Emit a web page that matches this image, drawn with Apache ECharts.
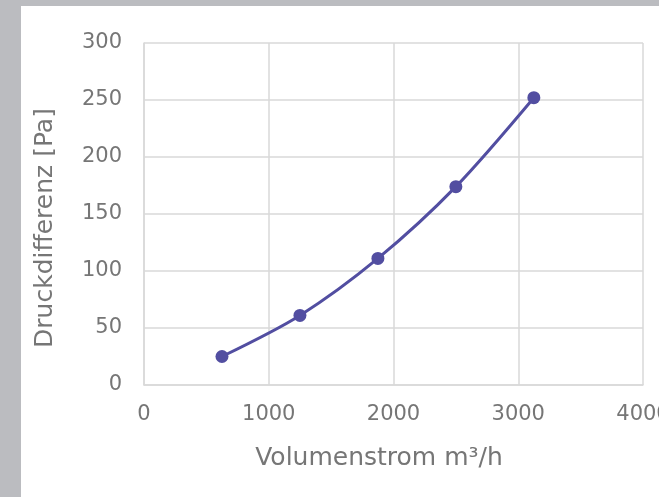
<!DOCTYPE html>
<html>
<head>
<meta charset="utf-8">
<script src="https://cdn.jsdelivr.net/npm/echarts@6/dist/echarts.min.js"></script>
<style>
  html, body { margin: 0; padding: 0; background: #bbbcc0; width: 659px; height: 497px; overflow: hidden; }
  #panel { position: absolute; left: 21px; top: 6px; width: 638px; height: 491px; background: #ffffff; }
  #chart { width: 638px; height: 491px; }
</style>
</head>
<body>
<div id="panel"><div id="chart"></div></div>
<script>
const volumenstrom = [625, 1250, 1875, 2500, 3125];
const druckdifferenz = [25, 61, 111, 174, 252];
const xTicks = [0, 1000, 2000, 3000, 4000];
const yTicks = [0, 50, 100, 150, 200, 250, 300];
const xTitle = 'Volumenstrom m³/h';
const yTitle = 'Druckdifferenz [Pa]';

const textColor = '#767676';
const gridColor = '#d9d9d9';
const fontFamily = '"DejaVu Sans", sans-serif';

const chart = echarts.init(document.getElementById('chart'), null, { renderer: 'canvas' });
chart.setOption({
  animation: false,
  backgroundColor: '#ffffff',
  grid: { left: 123, top: 37, width: 499, height: 342, containLabel: false, outerBoundsMode: 'none' },
  xAxis: {
    type: 'value',
    min: xTicks[0], max: xTicks[xTicks.length - 1], interval: 1000,
    name: xTitle, nameLocation: 'middle', nameGap: 61,
    nameTextStyle: { color: textColor, fontSize: 25, fontFamily: fontFamily, padding: [0, 29, 0, 0] },
    axisLine: { show: true, lineStyle: { color: gridColor, width: 1.5 } },
    axisTick: { show: false },
    axisLabel: { color: textColor, fontSize: 21, fontFamily: fontFamily, margin: 19, showMaxLabel: true,
      formatter: v => String(v) },
    splitLine: { show: true, lineStyle: { color: gridColor, width: 1.5 } }
  },
  yAxis: {
    type: 'value',
    min: yTicks[0], max: yTicks[yTicks.length - 1], interval: 50,
    name: yTitle, nameLocation: 'middle', nameGap: 86,
    nameTextStyle: { color: textColor, fontSize: 25, fontFamily: fontFamily, padding: [0, 28, 0, 0] },
    axisLine: { show: true, lineStyle: { color: gridColor, width: 1.5 } },
    axisTick: { show: false },
    axisLabel: { color: textColor, fontSize: 21, fontFamily: fontFamily, margin: 22,
      formatter: v => String(v) },
    splitLine: { show: true, lineStyle: { color: gridColor, width: 1.5 } }
  },
  series: [{
    type: 'line',
    data: volumenstrom.map((x, i) => [x, druckdifferenz[i]]),
    smooth: 0.3,
    symbol: 'circle',
    symbolSize: 13,
    lineStyle: { color: '#524ea1', width: 3 },
    itemStyle: { color: '#524ea1' }
  }]
});
</script>
</body>
</html>
